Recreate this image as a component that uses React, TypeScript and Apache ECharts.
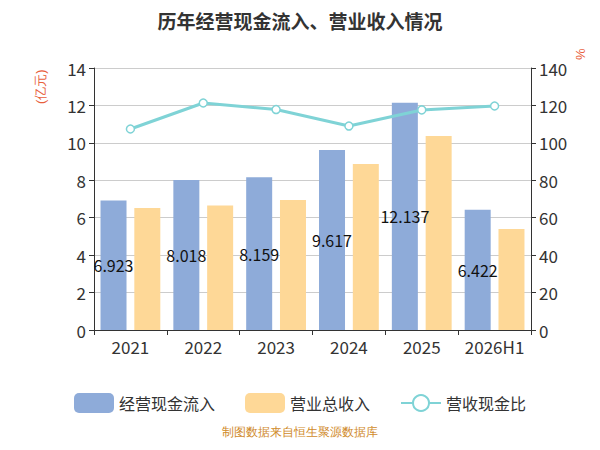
import * as echarts from 'echarts';
import { useEffect, useRef } from 'react';

const years = ['2021', '2022', '2023', '2024', '2025', '2026H1'];
const cashInflow = [6.923, 8.018, 8.159, 9.617, 12.137, 6.422];
const revenue = [6.52, 6.65, 6.95, 8.87, 10.37, 5.4];
const ratio = [107.4, 121.3, 117.8, 109.0, 117.6, 119.7];

export default function App() {
  const chartRef = useRef<HTMLDivElement>(null);

  useEffect(() => {
    if (!chartRef.current) return;
    const chart = echarts.init(chartRef.current, null, { renderer: 'svg' });
    const axisText = { color: '#333', fontSize: 17 };

    chart.setOption({
      animation: false,
      textStyle: { fontFamily: 'Noto Sans CJK SC' },
      title: {
        text: '历年经营现金流入、营业收入情况',
        left: 'center',
        top: -2,
        textStyle: { fontSize: 19, fontWeight: 'bold', color: '#333' }
      },
      graphic: [
        {
          type: 'text',
          left: 'center',
          top: 418,
          style: { text: '制图数据来自恒生聚源数据库', fill: '#d08a2a', fontSize: 12 }
        },
        {
          type: 'text',
          x: 26,
          y: 96,
          rotation: Math.PI / 2,
          style: { text: '(亿元)', fill: '#e8603c', fontSize: 13 }
        },
        {
          type: 'text',
          x: 566,
          y: 52,
          rotation: Math.PI / 2,
          style: { text: '%', fill: '#e8603c', fontSize: 13 }
        }
      ],
      legend: {
        top: 380,
        left: 'center',
        itemGap: 30,
        itemWidth: 40,
        itemHeight: 20,
        textStyle: { fontSize: 16, color: '#333' },
        data: ['经营现金流入', '营业总收入', '营收现金比']
      },
      grid: { left: 86, right: 61, top: 60, bottom: 112 },
      xAxis: {
        type: 'category',
        data: years,
        axisLine: { lineStyle: { color: '#333' } },
        axisTick: { show: true, lineStyle: { color: '#333' } },
        axisLabel: { ...axisText, interval: 0 }
      },
      yAxis: [
        {
          type: 'value',
          min: 0,
          max: 14,
          interval: 2,
          axisLine: { show: true, lineStyle: { color: '#333' } },
          axisTick: { show: true },
          axisLabel: axisText,
          splitLine: { lineStyle: { color: '#ccc' } }
        },
        {
          type: 'value',
          min: 0,
          max: 140,
          interval: 20,
          axisLine: { show: true, lineStyle: { color: '#333' } },
          axisTick: { show: true },
          axisLabel: axisText,
          splitLine: { show: false }
        }
      ],
      series: [
        {
          name: '经营现金流入',
          type: 'bar',
          data: cashInflow,
          barWidth: 26,
          barGap: '30%',
          itemStyle: { color: '#8eabd9' },
          label: { show: true, position: 'inside', color: '#111', fontSize: 16 }
        },
        {
          name: '营业总收入',
          type: 'bar',
          data: revenue,
          barWidth: 26,
          itemStyle: { color: '#fed897' }
        },
        {
          name: '营收现金比',
          type: 'line',
          yAxisIndex: 1,
          data: ratio,
          symbol: 'circle',
          symbolSize: 8,
          lineStyle: { color: '#7fd3d6', width: 3 },
          itemStyle: { color: '#fff', borderColor: '#7fd3d6', borderWidth: 1.5 }
        }
      ]
    });

    return () => chart.dispose();
  }, []);

  return <div ref={chartRef} style={{ width: 584, height: 434 }} />;
}
